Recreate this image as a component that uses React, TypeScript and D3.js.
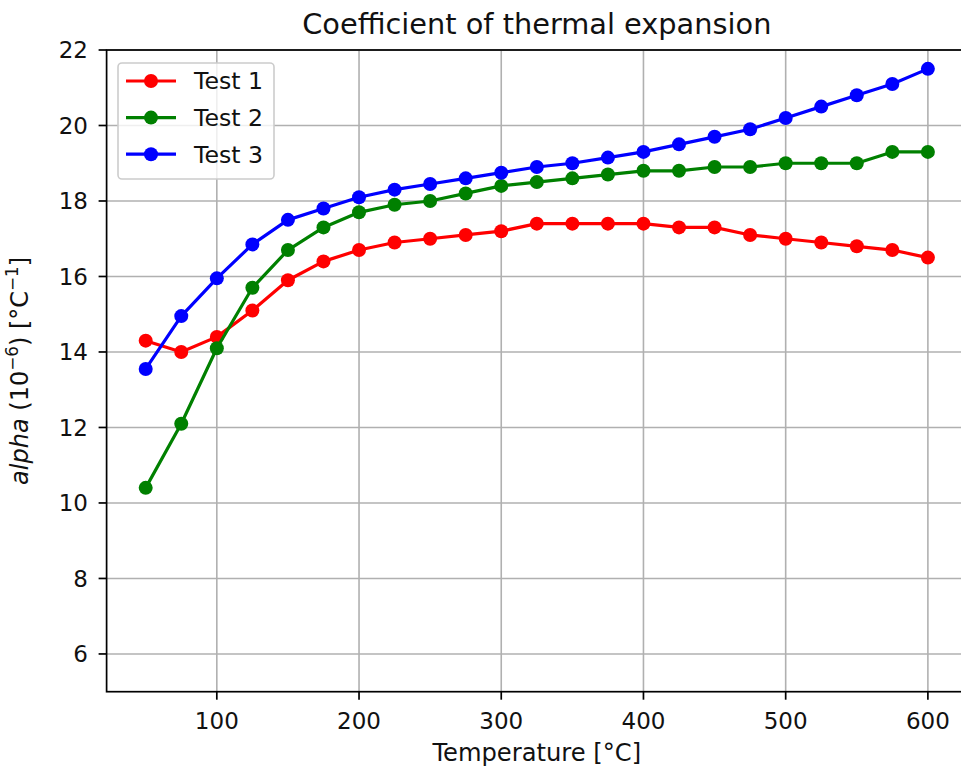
import React from "react";
import * as d3 from "d3";

const temperatures = [50, 75, 100, 125, 150, 175, 200, 225, 250, 275, 300, 325, 350, 375, 400, 425, 450, 475, 500, 525, 550, 575, 600];
const test1 = [14.3, 14.0, 14.4, 15.1, 15.9, 16.4, 16.7, 16.9, 17.0, 17.1, 17.2, 17.4, 17.4, 17.4, 17.4, 17.3, 17.3, 17.1, 17.0, 16.9, 16.8, 16.7, 16.5];
const test2 = [10.4, 12.1, 14.1, 15.7, 16.7, 17.3, 17.7, 17.9, 18.0, 18.2, 18.4, 18.5, 18.6, 18.7, 18.8, 18.8, 18.9, 18.9, 19.0, 19.0, 19.0, 19.3, 19.3];
const test3 = [13.55, 14.95, 15.95, 16.85, 17.5, 17.8, 18.1, 18.3, 18.45, 18.6, 18.75, 18.9, 19.0, 19.15, 19.3, 19.5, 19.7, 19.9, 20.2, 20.5, 20.8, 21.1, 21.5];
const seriesNames = ["Test 1", "Test 2", "Test 3"];
const seriesColors = ["#ff0000", "#008000", "#0000ff"];
const xTicks = [100, 200, 300, 400, 500, 600];
const yTicks = [6, 8, 10, 12, 14, 16, 18, 20, 22];

const W = 961;
const H = 771;
const L = 106.6, T = 50, R = 967, B = 691.7;
const FONT = "DejaVu Sans, sans-serif";
const TXT = "#111";

export default function App() {
  const x = d3.scaleLinear().domain([22.5, 627.5]).range([L, R]);
  const y = d3.scaleLinear().domain([5, 22]).range([B, T]);
  const series = [test1, test2, test3];
  const line = d3.line<[number, number]>().x(d => x(d[0])).y(d => y(d[1]));

  return (
    <svg width={W} height={H} style={{ position: "absolute", left: 0, top: 0, background: "#fff" }} fontFamily={FONT}>
      <rect x={0} y={0} width={W} height={H} fill="#fff" />
      <defs>
        <clipPath id="plotclip">
          <rect x={L} y={T} width={R - L} height={B - T} />
        </clipPath>
      </defs>
      {xTicks.map(t => (
        <line key={"gx" + t} x1={x(t)} x2={x(t)} y1={T} y2={B} stroke="#b0b0b0" strokeWidth={1.6} />
      ))}
      {yTicks.map(t => (
        <line key={"gy" + t} x1={L} x2={R} y1={y(t)} y2={y(t)} stroke="#b0b0b0" strokeWidth={1.6} />
      ))}
      <g clipPath="url(#plotclip)">
        {series.map((s, i) => {
          const pts: [number, number][] = temperatures.map((t, j) => [t, s[j]]);
          return (
            <g key={i}>
              <path d={line(pts) || ""} fill="none" stroke={seriesColors[i]} strokeWidth={3.2} strokeLinejoin="round" />
              {pts.map((p, j) => (
                <circle key={j} cx={x(p[0])} cy={y(p[1])} r={7} fill={seriesColors[i]} />
              ))}
            </g>
          );
        })}
      </g>
      <rect x={L} y={T} width={R - L} height={B - T} fill="none" stroke="#000" strokeWidth={1.7} />
      {xTicks.map(t => (
        <g key={"tx" + t}>
          <line x1={x(t)} x2={x(t)} y1={B} y2={B + 8} stroke="#000" strokeWidth={1.7} />
          <text x={x(t)} y={728.5} textAnchor="middle" fontSize={23} fill={TXT}>{t}</text>
        </g>
      ))}
      {yTicks.map(t => (
        <g key={"ty" + t}>
          <line x1={L - 8} x2={L} y1={y(t)} y2={y(t)} stroke="#000" strokeWidth={1.7} />
          <text x={88} y={y(t)} dy="0.36em" textAnchor="end" fontSize={23} fill={TXT}>{t}</text>
        </g>
      ))}
      <text x={(L + R) / 2} y={34} textAnchor="middle" fontSize={28.8} fill={TXT}>Coefficient of thermal expansion</text>
      <text x={(L + R) / 2} y={761} textAnchor="middle" fontSize={24.2} fill={TXT}>Temperature [°C]</text>
      <text transform={`translate(28, ${(T + B) / 2}) rotate(-90)`} textAnchor="middle" fontSize={24} fill={TXT}>
        <tspan fontStyle="italic">alpha</tspan>
        <tspan> (10</tspan>
        <tspan fontSize={16.8} dy={-10}>−6</tspan>
        <tspan dy={10}>) [°C</tspan>
        <tspan fontSize={16.8} dy={-10}>−1</tspan>
        <tspan dy={10}>]</tspan>
      </text>
      <rect x={118} y={63} width={156} height={116} rx={4} fill="#fff" fillOpacity={0.8} stroke="#cccccc" strokeWidth={1.6} />
      {seriesNames.map((n, i) => {
        const ly = 81 + i * 36.6;
        return (
          <g key={n}>
            <line x1={126} x2={176} y1={ly} y2={ly} stroke={seriesColors[i]} strokeWidth={3.2} />
            <circle cx={151} cy={ly} r={7} fill={seriesColors[i]} />
            <text x={194} y={ly} dy="0.36em" fontSize={23.6} fill={TXT}>{n}</text>
          </g>
        );
      })}
    </svg>
  );
}
